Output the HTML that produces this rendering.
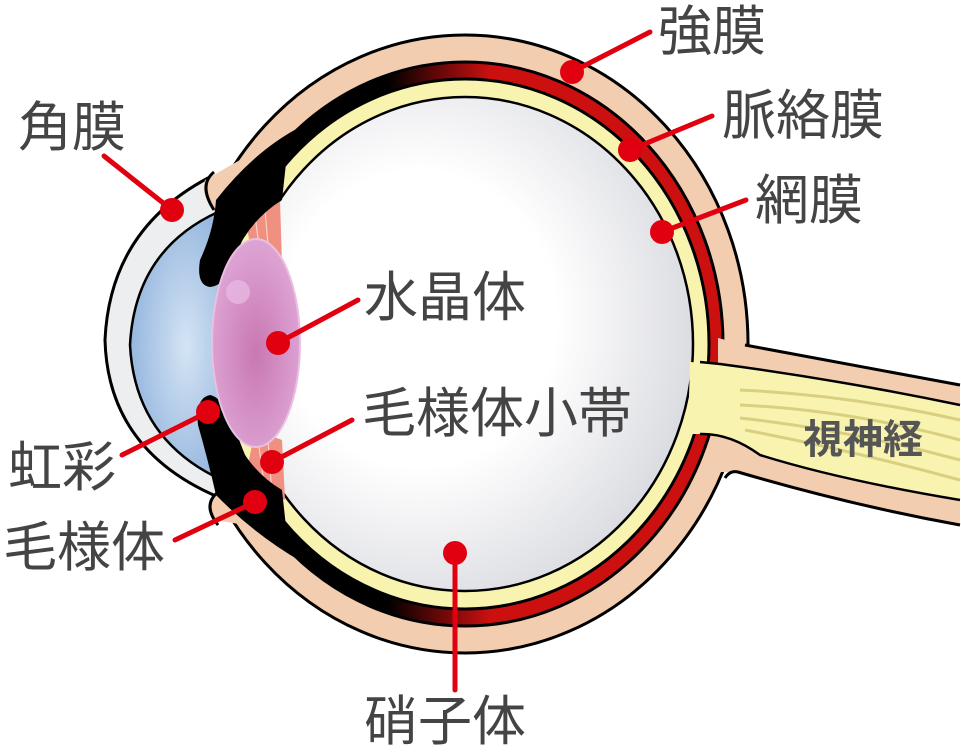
<!DOCTYPE html>
<html><head><meta charset="utf-8"><style>
html,body{margin:0;padding:0;background:#fff;}
svg{display:block}
text{font-family:"Liberation Sans","Noto Sans CJK JP",sans-serif;fill:#444;font-size:54px}
</style></head><body>
<svg width="961" height="756" viewBox="0 0 961 756" xmlns="http://www.w3.org/2000/svg">
<defs>
<radialGradient id="vit" cx="0.4" cy="0.45" r="0.6"><stop offset="0.5" stop-color="#fff"/><stop offset="1" stop-color="#dcdde2"/></radialGradient>
<radialGradient id="aq" cx="0.55" cy="0.5" r="0.6"><stop offset="0" stop-color="#d4e4f4"/><stop offset="1" stop-color="#90b2dc"/></radialGradient>
<radialGradient id="lens" cx="0.5" cy="0.55" r="0.6"><stop offset="0" stop-color="#c878b0"/><stop offset="1" stop-color="#e0a8d8"/></radialGradient>
<linearGradient id="ch" x1="0" y1="0" x2="1" y2="0"><stop offset="0.35" stop-color="#000"/><stop offset="0.55" stop-color="#cc1010"/></linearGradient>
</defs>
<!-- eyeball layers -->
<ellipse cx="465" cy="344" rx="283" ry="309" fill="#f2cdb0" stroke="#000" stroke-width="3"/>
<ellipse cx="465" cy="344" rx="258" ry="282" fill="url(#ch)" stroke="#000" stroke-width="3"/>
<ellipse cx="465" cy="344" rx="244" ry="265" fill="#f8f4b0" stroke="#000" stroke-width="3"/>
<ellipse cx="465" cy="344" rx="228" ry="247" fill="url(#vit)" stroke="#000" stroke-width="2.5"/>
<!-- optic nerve -->
<path d="M718 338 L745 345 Q850 365 960 385 L960 525 Q850 505 738 472 L718 472 Z" fill="#f2cdb0"/>
<path d="M745 345 Q850 365 960 385 M960 525 Q850 505 738 472 Q730 470 725 478" fill="none" stroke="#000" stroke-width="3"/>
<path d="M690 362 L720 364 Q840 380 960 405 L960 500 Q840 480 760 455 Q730 433 700 434 L688 434 Z" fill="#f8f4b0"/>
<path d="M700 362 L720 364 Q840 380 960 405 M960 500 Q840 480 760 455 Q730 433 700 434" fill="none" stroke="#000" stroke-width="2.5"/>
<g stroke="#d8d080" stroke-width="3" fill="none">
<path d="M740 390 Q850 395 960 420"/><path d="M740 405 Q850 410 960 440"/><path d="M740 418 Q850 430 960 460"/><path d="M745 430 Q850 450 960 480"/>
</g>
<!-- front cut: white cover -->
<path d="M0 0 L205 0 L205 180 L215 215 L215 480 L215 495 L215 756 L0 756 Z" fill="#fff"/>
<!-- cornea -->
<path d="M208 178 Q110 230 105 340 Q108 450 218 497 L230 497 L230 178 Z" fill="#eceef0" stroke="#000" stroke-width="3"/>
<path d="M218 212 Q135 250 130 345 Q135 440 222 480 L232 480 L232 212 Z" fill="url(#aq)" stroke="#000" stroke-width="2.5"/>
<!-- sclera front caps -->
<path d="M205 180 Q200 195 215 212 L240 215 L240 160 Z" fill="#f2cdb0"/>
<path d="M215 495 Q205 505 215 520 L245 525 L245 490 Z" fill="#f2cdb0"/>
<path d="M214 172 Q198 185 214 210" fill="none" stroke="#000" stroke-width="3"/>
<path d="M218 492 Q202 505 218 525" fill="none" stroke="#000" stroke-width="3"/>
<!-- zonule -->
<path d="M245 215 L280 200 L282 265 L255 275 Z" fill="#f09080"/>
<path d="M245 480 L255 430 L282 440 L285 500 Z" fill="#f09080"/>
<g stroke="#fbd0c8" stroke-width="1.2"><path d="M255 215 L262 270"/><path d="M265 210 L270 268"/><path d="M258 440 L265 490"/><path d="M268 440 L272 495"/></g>
<!-- iris / ciliary black -->
<path d="M302 126 Q255 150 216 200 Q214 230 200 260 Q196 285 210 287 Q228 285 235 255 Q250 220 282 200 L288 145 Q293 135 304 130 Z" fill="#000"/>
<path d="M210 395 Q225 398 232 430 Q248 470 282 490 L288 545 Q294 552 304 556 L302 562 Q255 535 216 495 Q208 460 198 425 Q195 398 210 395 Z" fill="#000"/>
<!-- lens -->
<ellipse cx="256" cy="343" rx="44" ry="104" fill="url(#lens)" stroke="#e8c0e0" stroke-width="2"/>
<circle cx="238" cy="292" r="12" fill="#e6b8e0" opacity="0.8"/>
<!-- leader lines -->
<g stroke="#e00010" stroke-width="5" stroke-linecap="round">
<line x1="650" y1="32" x2="572" y2="72"/>
<line x1="712" y1="116" x2="630" y2="150"/>
<line x1="746" y1="200" x2="662" y2="232"/>
<line x1="104" y1="156" x2="172" y2="210"/>
<line x1="358" y1="300" x2="278" y2="343"/>
<line x1="352" y1="420" x2="272" y2="462"/>
<line x1="122" y1="455" x2="208" y2="412"/>
<line x1="175" y1="540" x2="255" y2="502"/>
<line x1="455" y1="690" x2="455" y2="553"/>
</g>
<g fill="#e00010">
<circle cx="572" cy="72" r="12"/><circle cx="630" cy="150" r="12"/><circle cx="662" cy="232" r="12"/>
<circle cx="172" cy="210" r="12"/><circle cx="278" cy="343" r="12"/><circle cx="272" cy="462" r="12"/>
<circle cx="208" cy="412" r="12"/><circle cx="255" cy="502" r="12"/><circle cx="455" cy="553" r="12"/>
</g>
<!-- labels -->
<text x="658" y="50">強膜</text>
<text x="722" y="134">脈絡膜</text>
<text x="755" y="219">網膜</text>
<text x="18" y="146">角膜</text>
<text x="364" y="316">水晶体</text>
<text x="362" y="432">毛様体小帯</text>
<text x="8" y="486">虹彩</text>
<text x="3" y="566">毛様体</text>
<text x="364" y="740">硝子体</text>
<text x="803" y="453" style="font-size:40px;font-weight:bold;fill:#555">視神経</text>
</svg>
</body></html>
